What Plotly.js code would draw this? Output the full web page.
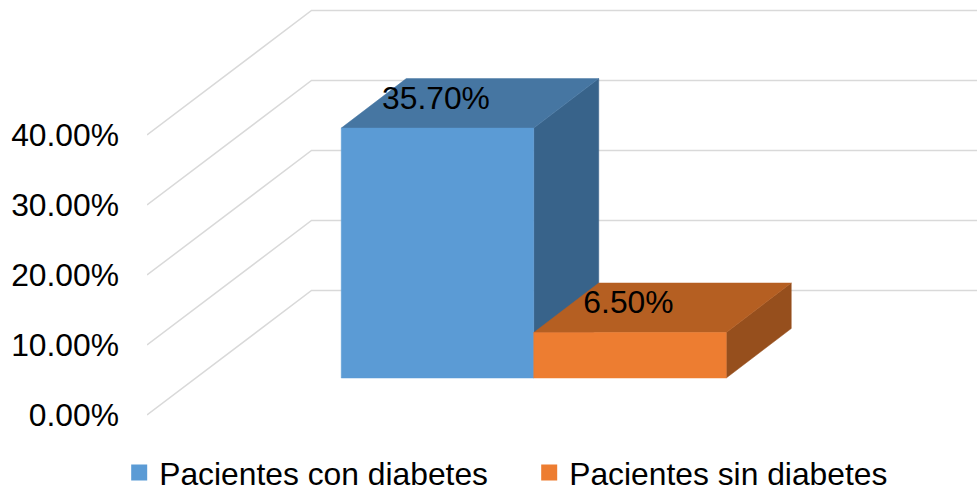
<!DOCTYPE html>
<html>
<head>
<meta charset="utf-8">
<script src="https://cdn.plot.ly/plotly-3.0.1.min.js"></script>
<style>html,body{margin:0;padding:0;background:#fff}#chart{width:977px;height:492px}</style>
</head>
<body>
<div id="chart"></div>
<script>
var seriesNames = ["Pacientes con diabetes", "Pacientes sin diabetes"];
var seriesValues = [35.7, 6.5];
var dataLabels = ["35.70%", "6.50%"];
var tickValues = [0, 10, 20, 30, 40];
var tickLabels = ["0.00%", "10.00%", "20.00%", "30.00%", "40.00%"];
var frontColors = ["#5B9BD5", "#ED7D31"];
var topColors = ["#4676A2", "#B55F22"];
var sideColors = ["#38638A", "#964F1D"];

// Oblique projection, expressed in axis units
var unitX = 192.5, unitY = 7;             // px per x unit / y unit
var plotLeft = 147, plotBottomMargin = 60, W = 977, H = 492;
var zeroPx = 415, firstCenterPx = 437.5;
var wallDx = 164.5 / unitX, wallDy = 124.5 / unitY;
var barDx = 65 / unitX, barDy = 49.5 / unitY;
var barBase = 37 / unitY;
var labelLift = 27 / unitY;

var xRange = [(plotLeft - firstCenterPx) / unitX, (W - firstCenterPx) / unitX];
var yRange = [(zeroPx - (H - plotBottomMargin)) / unitY, zeroPx / unitY];

var traces = [];

// Walls: diagonal from the front edge to the back, then along the back
tickValues.forEach(function (v) {
  traces.push({
    type: "scatter", mode: "lines", showlegend: false, hoverinfo: "skip",
    x: [xRange[0], xRange[0] + wallDx, xRange[1]],
    y: [v, v + wallDy, v + wallDy],
    line: { color: "#D9D9D9", width: 1.5 }, cliponaxis: false
  });
});

// Boxes
seriesValues.forEach(function (v, i) {
  var l = i - 0.5, r = i + 0.5, b = barBase, t = barBase + v;
  var face = function (xs, ys, c) {
    traces.push({
      type: "scatter", mode: "lines", showlegend: false, hoverinfo: "skip",
      x: xs, y: ys, fill: "toself", fillcolor: c, line: { color: c, width: 0.5 }
    });
  };
  face([r, r + barDx, r + barDx, r, r], [b, b + barDy, t + barDy, t, b], sideColors[i]);
  face([l, r, r + barDx, l + barDx, l], [t, t, t + barDy, t + barDy, t], topColors[i]);
  face([l, r, r, l, l], [b, b, t, t, b], frontColors[i]);
});

// Data labels
traces.push({
  type: "scatter", mode: "text", showlegend: false, hoverinfo: "skip",
  x: seriesValues.map(function (v, i) { return i - 0.008; }),
  y: seriesValues.map(function (v) { return barBase + v + labelLift; }),
  text: dataLabels, textposition: "middle center",
  textfont: { family: "Liberation Sans, Arial, sans-serif", size: 31.8, color: "#000" }
});

// Legend entries
seriesNames.forEach(function (n, i) {
  traces.push({
    type: "scatter", mode: "markers", name: n, hoverinfo: "skip",
    x: [xRange[0] - 5], y: [yRange[0] - 5],
    marker: { symbol: "square", size: 16, color: frontColors[i] }
  });
});

var layout = {
  width: W, height: H,
  margin: { l: 0, r: 0, t: 0, b: plotBottomMargin, pad: 0 },
  paper_bgcolor: "#fff", plot_bgcolor: "rgba(0,0,0,0)",
  font: { family: "Liberation Sans, Arial, sans-serif", size: 31.8, color: "#000" },
  xaxis: { domain: [plotLeft / W, 1], range: xRange, visible: false, fixedrange: true },
  yaxis: {
    range: yRange, tickmode: "array", tickvals: tickValues, ticktext: tickLabels,
    showgrid: false, zeroline: false, showline: false, ticks: "", ticklabelstandoff: 27,
    automargin: false, fixedrange: true,
    tickfont: { family: "Liberation Sans, Arial, sans-serif", size: 31.8, color: "#000" }
  },
  legend: {
    orientation: "h", xref: "container", yref: "container",
    x: 0.122, y: 0.039, xanchor: "left", yanchor: "middle",
    entrywidth: 365, entrywidthmode: "pixels", itemsizing: "trace",
    bgcolor: "rgba(0,0,0,0)", font: { size: 31.8, color: "#000" }
  },
  showlegend: true
};

Plotly.newPlot("chart", traces, layout, { displayModeBar: false, staticPlot: true });
</script>
</body>
</html>
